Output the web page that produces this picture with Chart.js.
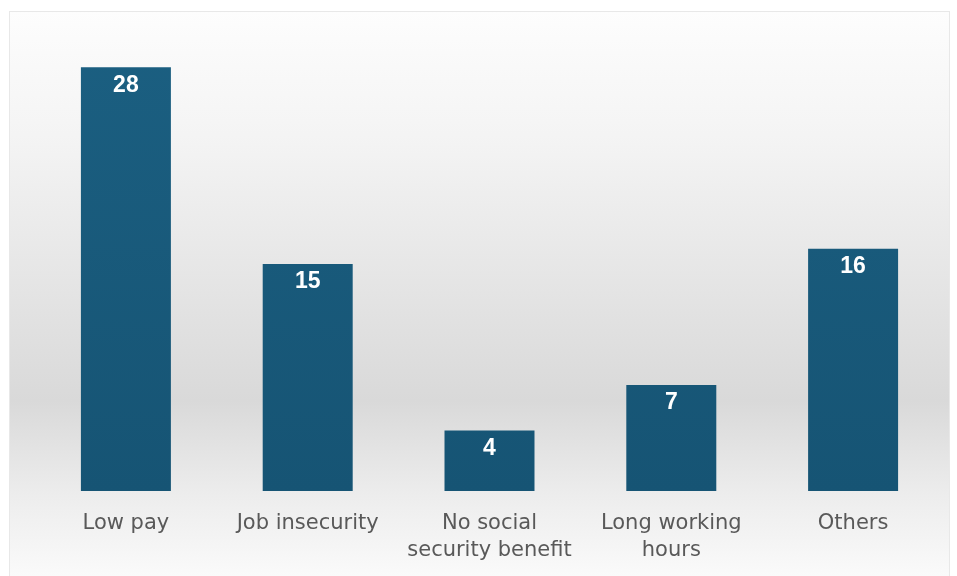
<!DOCTYPE html>
<html>
<head>
<meta charset="utf-8">
<script src="https://cdn.jsdelivr.net/npm/chart.js@4/dist/chart.umd.min.js"></script>
<style>
  html, body { margin: 0; padding: 0; background: #ffffff; }
  #wrap { width: 957px; height: 576px; position: relative; }
</style>
</head>
<body>
<div id="wrap"><canvas id="c" width="957" height="576"></canvas></div>
<script>
const categories = [["Low pay"], ["Job insecurity"], ["No social", "security benefit"], ["Long working", "hours"], ["Others"]];
const values = [28, 15, 4, 7, 16];
const yMin = 0;
const yMax = 30;

const panelPlugin = {
  id: 'panel',
  beforeDraw(chart) {
    const ctx = chart.ctx;
    ctx.save();
    ctx.fillStyle = '#ffffff';
    ctx.fillRect(0, 0, chart.width, chart.height);
    const g = ctx.createLinearGradient(0, 11, 0, 576);
    g.addColorStop(0, '#fdfdfd');
    g.addColorStop(0.22, '#f4f4f4');
    g.addColorStop(0.48, '#e5e5e5');
    g.addColorStop(0.69, '#d9d9d9');
    g.addColorStop(0.85, '#ececec');
    g.addColorStop(1, '#fafafa');
    ctx.fillStyle = g;
    ctx.fillRect(9, 11, 941, 565);
    ctx.strokeStyle = '#e8e8e8';
    ctx.lineWidth = 1;
    ctx.strokeRect(9.5, 11.5, 940, 570);
    ctx.restore();
  }
};

const labelPlugin = {
  id: 'valueLabels',
  afterDatasetsDraw(chart) {
    const ctx = chart.ctx;
    const meta = chart.getDatasetMeta(0);
    ctx.save();
    ctx.fillStyle = '#ffffff';
    ctx.font = 'bold 23px "Liberation Sans", Arial, sans-serif';
    ctx.textAlign = 'center';
    ctx.textBaseline = 'middle';
    meta.data.forEach((bar, i) => {
      ctx.fillText(String(values[i]), bar.x, bar.y + 18);
    });
    ctx.restore();
  }
};

new Chart(document.getElementById('c'), {
  type: 'bar',
  data: {
    labels: categories,
    datasets: [{
      data: values,
      backgroundColor: (context) => {
        const area = context.chart.chartArea;
        if (!area) return '#185a7b';
        const g = context.chart.ctx.createLinearGradient(0, area.top, 0, area.bottom);
        g.addColorStop(0, '#1b5f81');
        g.addColorStop(1, '#165474');
        return g;
      },
      borderWidth: 0,
      barPercentage: 0.5,
      categoryPercentage: 0.99
    }]
  },
  options: {
    responsive: false,
    animation: false,
    devicePixelRatio: 1,
    layout: { padding: { left: 35, right: 13, top: 37, bottom: 0 } },
    plugins: {
      legend: { display: false },
      tooltip: { enabled: false },
      title: { display: false }
    },
    scales: {
      x: {
        grid: { display: false },
        border: { display: false },
        ticks: {
          color: '#595959',
          font: { family: '"DejaVu Sans", Verdana, sans-serif', size: 21, lineHeight: 1.24 },
          padding: 12,
          maxRotation: 0,
          autoSkip: false
        },
        afterFit(scale) { scale.height = 85; }
      },
      y: {
        display: false,
        min: yMin,
        max: yMax
      }
    }
  },
  plugins: [panelPlugin, labelPlugin]
});
</script>
</body>
</html>
